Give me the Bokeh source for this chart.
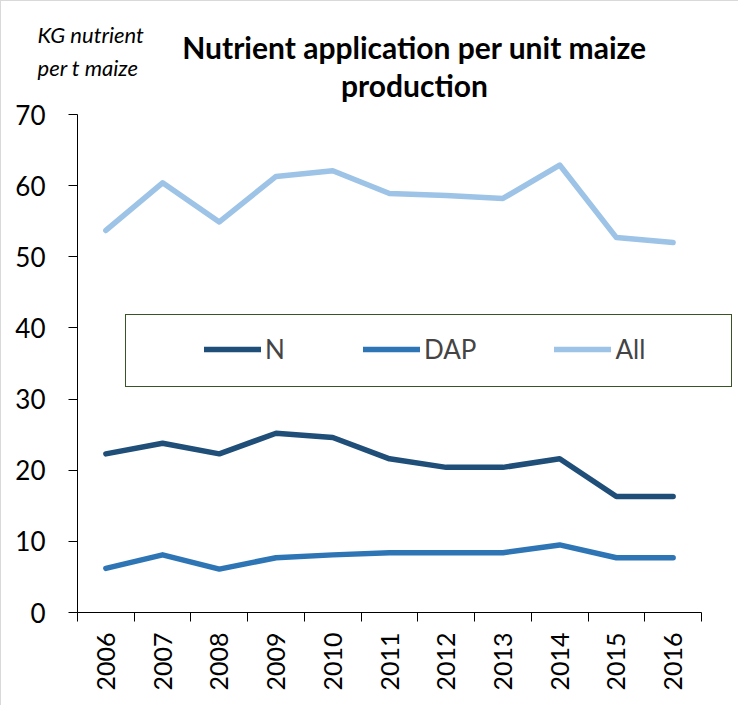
from bokeh.plotting import figure
from bokeh.models import (Range1d, FixedTicker, Legend, LegendItem, Label, LinearAxis)
from bokeh.embed import file_html
from bokeh.resources import INLINE

years = ["2006", "2007", "2008", "2009", "2010", "2011", "2012", "2013", "2014", "2015", "2016"]
n_vals = [22.3, 23.8, 22.3, 25.2, 24.6, 21.6, 20.4, 20.4, 21.6, 16.3, 16.3]
dap_vals = [6.2, 8.1, 6.1, 7.7, 8.1, 8.4, 8.4, 8.4, 9.5, 7.7, 7.7]
all_vals = [53.7, 60.4, 54.9, 61.3, 62.1, 58.9, 58.6, 58.2, 62.9, 52.7, 52.0]
y_ticks = [0, 10, 20, 30, 40, 50, 60, 70]
y_max = 70
title_line1 = "Nutrient application per unit maize"
title_line2 = "production"
unit_line1 = "KG nutrient"
unit_line2 = "per t maize"

FONT = "Lato"
C_N, C_DAP, C_ALL = "#1F4E79", "#2E75B6", "#9DC3E6"

# layout (pixels): canvas size and where the axes sit inside it
W, H = 738, 705
AX_LEFT, AX_RIGHT, AX_TOP, AX_BOTTOM = 76, 700, 113, 611
n_cat = len(years)
px_per_x = (AX_RIGHT - AX_LEFT) / n_cat
px_per_y = (AX_BOTTOM - AX_TOP) / y_max

x_range = Range1d(-AX_LEFT / px_per_x, (W - AX_LEFT) / px_per_x)
y_range = Range1d(-(H - AX_BOTTOM) / px_per_y, AX_BOTTOM / px_per_y)

xs = [i + 0.5 for i in range(n_cat)]

p = figure(width=W, height=H, output_backend="svg", toolbar_location=None,
           x_range=x_range, y_range=y_range, x_axis_location=None, y_axis_location=None,
           min_border_left=0, min_border_right=0, min_border_top=0, min_border_bottom=0)
p.outline_line_color = None
p.grid.visible = False
p.background_fill_color = "white"
p.border_fill_color = "white"

r_all = p.line(xs, all_vals, line_color=C_ALL, line_width=5.5, line_cap="round", line_join="round")
r_dap = p.line(xs, dap_vals, line_color=C_DAP, line_width=5.5, line_cap="round", line_join="round")
r_n = p.line(xs, n_vals, line_color=C_N, line_width=5.5, line_cap="round", line_join="round")
r_dummy = p.line([], [], line_alpha=0)

# y axis
yaxis = LinearAxis(fixed_location=0, bounds=(0, y_max), ticker=FixedTicker(ticks=y_ticks),
                   major_tick_out=9, major_tick_in=0, minor_tick_line_color=None,
                   axis_line_color="black", major_tick_line_color="black",
                   major_label_text_font=FONT, major_label_text_font_size="26px",
                   major_label_text_color="black", major_label_standoff=23)
p.add_layout(yaxis, "left")

# x axis: labels at category centres, ticks at category boundaries
xaxis = LinearAxis(fixed_location=0, bounds=(0, n_cat),
                   ticker=FixedTicker(ticks=xs, minor_ticks=list(range(n_cat + 1))),
                   major_label_overrides={x: y for x, y in zip(xs, years)},
                   major_tick_line_color=None, major_tick_out=0, major_tick_in=0,
                   minor_tick_line_color="black", minor_tick_out=9, minor_tick_in=0,
                   axis_line_color="black", major_label_orientation=3.14159265 / 2,
                   major_label_text_font=FONT, major_label_text_font_size="25px",
                   major_label_text_color="black", major_label_standoff=11)
p.add_layout(xaxis, "below")

# titles (screen units: from the bottom-left of the canvas)
for txt, cy in ((title_line1, 45), (title_line2, 83)):
    p.add_layout(Label(x=413, y=H - cy, x_units="screen", y_units="screen", text=txt,
                       text_font=FONT, text_font_size="30px", text_font_style="bold",
                       text_align="center", text_baseline="middle", text_color="black"))
for txt, cy in ((unit_line1, 33), (unit_line2, 66)):
    p.add_layout(Label(x=36, y=H - cy, x_units="screen", y_units="screen", text=txt,
                       text_font=FONT, text_font_size="22px", text_font_style="italic",
                       text_align="left", text_baseline="middle", text_color="black"))

# legend frame (bordered legend holding an invisible item)
frame_legend = Legend(items=[LegendItem(label=" ", renderers=[r_dummy])],
                      location=(124, H - 386), orientation="horizontal",
                      border_line_color="#375623", border_line_width=1.5, border_line_alpha=1,
                      background_fill_color="white", background_fill_alpha=1,
                      padding=0, margin=0, spacing=0, glyph_width=605, glyph_height=71,
                      label_height=71, label_width=0, label_standoff=0,
                      label_text_font_size="1px")
p.add_layout(frame_legend)

legend = Legend(items=[LegendItem(label="N", renderers=[r_n]),
                       LegendItem(label="DAP", renderers=[r_dap]),
                       LegendItem(label="All", renderers=[r_all])],
                location=(203, H - 364), orientation="horizontal",
                border_line_color=None, background_fill_alpha=0,
                padding=0, margin=0, spacing=78, glyph_width=57, glyph_height=30,
                label_height=30, label_standoff=4,
                label_text_font=FONT, label_text_font_size="26px")
p.add_layout(legend)

p.styles = {"border-top": "1px solid #d9d9d9", "border-left": "1px solid #d9d9d9"}

open("out.html", "w").write(file_html(p, INLINE))
